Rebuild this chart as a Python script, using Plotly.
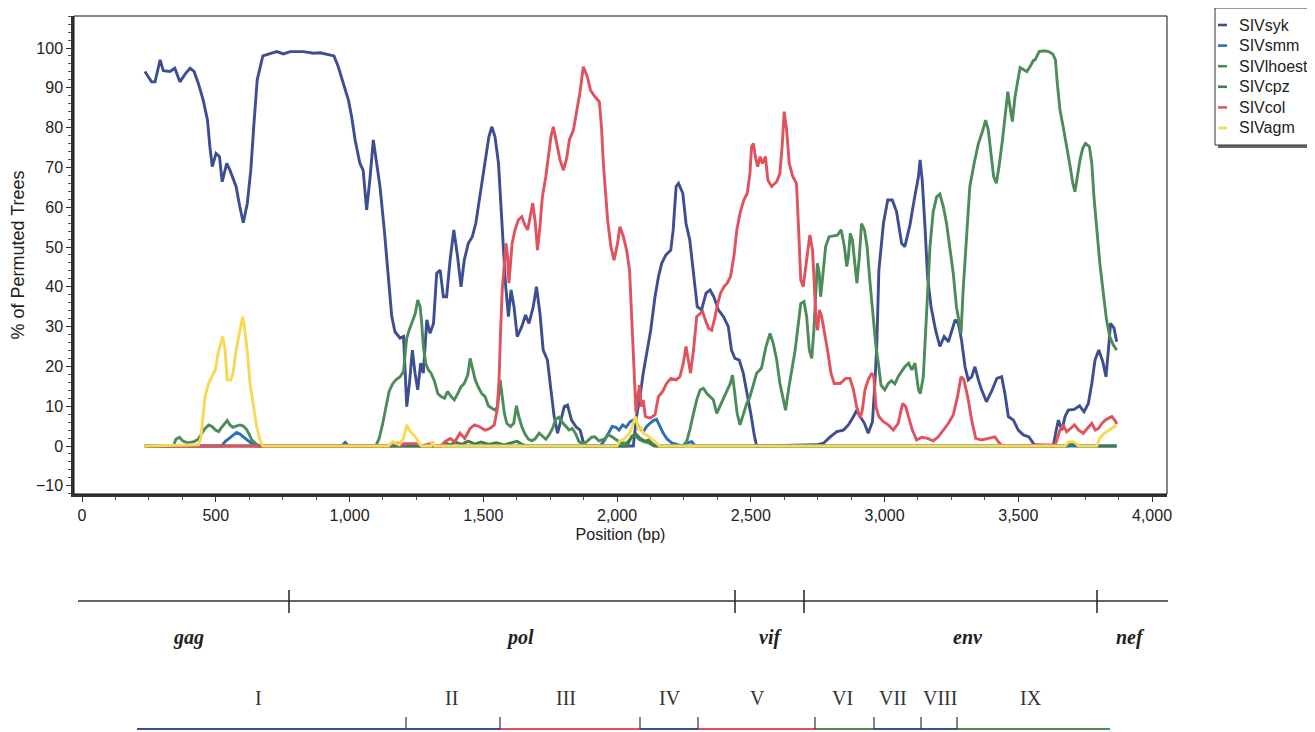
import plotly.graph_objects as go

# ---------------- data (position in bp, % of permuted trees) ----------------
series_names = ["SIVsyk", "SIVsmm", "SIVlhoest", "SIVcpz", "SIVcol", "SIVagm"]

syk_pts = [(235, 94.1), (260, 91.5), (273, 91.5), (292, 97.0), (304, 94.3), (329, 94.1), (347, 94.9),
           (366, 91.5), (386, 93.5), (404, 94.9), (419, 94.1), (435, 91.1), (453, 86.9), (469, 81.9),
           (478, 75.2), (487, 70.2), (501, 73.5), (514, 72.7), (524, 66.4), (541, 71.0), (553, 69.3),
           (576, 65.2), (590, 60.1), (603, 56.1), (618, 61.0), (631, 69.3), (643, 81.1), (655, 92.0),
           (676, 98.0), (703, 98.5), (728, 99.1), (753, 98.5), (778, 99.1), (828, 99.1), (865, 98.7),
           (890, 98.8), (915, 98.5), (942, 98.0), (958, 95.3), (977, 91.1), (996, 86.9), (1008, 82.7),
           (1021, 76.9), (1039, 71.0), (1051, 69.3), (1064, 59.3), (1076, 66.8), (1089, 76.9), (1101, 71.0),
           (1114, 65.2), (1130, 54.3), (1145, 41.7), (1158, 32.5), (1170, 28.7), (1189, 27.1), (1202, 27.5),
           (1214, 9.9), (1224, 15.7), (1235, 24.1), (1245, 18.3), (1255, 14.1), (1266, 20.8), (1276, 18.3),
           (1289, 31.7), (1301, 28.3), (1314, 30.8), (1326, 43.4), (1339, 44.2), (1351, 37.5), (1363, 37.5),
           (1376, 46.7), (1390, 54.3), (1404, 47.6), (1417, 40.0), (1429, 46.7), (1444, 50.9), (1459, 52.6),
           (1472, 55.9), (1484, 61.0), (1496, 66.8), (1509, 71.9), (1521, 77.7), (1532, 80.2), (1544, 77.7),
           (1557, 71.0), (1565, 62.6), (1575, 50.9), (1583, 40.9), (1594, 32.5), (1604, 39.2), (1615, 35.0),
           (1627, 27.5), (1644, 30.0), (1658, 32.9), (1671, 30.8), (1687, 35.0), (1699, 40.0), (1712, 33.3),
           (1724, 24.1), (1740, 21.6), (1753, 14.1), (1765, 7.4), (1778, 3.2), (1789, 6.1), (1803, 9.9),
           (1815, 10.3), (1830, 6.5), (1846, 4.9), (1862, 4.0), (1878, 0.0), (2061, 0.0), (2073, 7.4),
           (2086, 12.4), (2098, 18.3), (2111, 23.3), (2126, 29.1), (2142, 37.5), (2155, 42.5), (2167, 45.9),
           (2183, 48.0), (2201, 49.2), (2210, 54.3), (2221, 65.2), (2230, 66.0), (2246, 63.5), (2258, 55.9),
           (2272, 51.8), (2288, 42.5), (2300, 35.0), (2316, 34.2), (2333, 38.4), (2348, 39.2), (2362, 37.5),
           (2379, 34.2), (2398, 32.5), (2416, 30.0), (2428, 24.1), (2441, 22.0), (2457, 21.6), (2472, 18.3),
           (2487, 13.2), (2500, 8.2), (2513, 2.8), (2522, 0.0), (2746, 0.3), (2772, 0.7), (2797, 2.3),
           (2822, 3.6), (2846, 4.0), (2865, 5.3), (2884, 7.4), (2896, 9.0), (2909, 7.4), (2925, 5.7),
           (2939, 3.2), (2955, 6.1), (2964, 15.7), (2971, 25.0), (2979, 44.2), (2996, 55.9), (3012, 61.8),
           (3029, 61.8), (3045, 58.9), (3064, 50.9), (3076, 50.1), (3095, 55.5), (3113, 62.6), (3127, 67.7),
           (3133, 71.9), (3141, 66.8), (3152, 54.3), (3161, 42.5), (3174, 35.0), (3191, 29.1), (3207, 25.0),
           (3223, 27.5), (3239, 26.2), (3251, 28.7), (3264, 31.7), (3276, 30.8), (3288, 26.6), (3301, 19.9),
           (3313, 16.6), (3326, 17.4), (3338, 19.9), (3351, 16.6), (3363, 14.1), (3381, 11.1), (3400, 13.7),
           (3420, 17.0), (3438, 17.4), (3450, 13.2), (3463, 7.4), (3482, 6.5), (3500, 4.0), (3519, 2.8),
           (3540, 2.3), (3560, 0.3), (3631, 0.0), (3642, 4.0), (3650, 6.5), (3663, 4.0), (3675, 7.4),
           (3687, 9.0), (3709, 9.2), (3729, 10.1), (3746, 8.6), (3762, 10.7), (3775, 15.7), (3787, 21.6),
           (3801, 24.1), (3816, 21.2), (3828, 17.4), (3837, 24.1), (3845, 30.8), (3858, 29.6), (3868, 26.2)]

smm_pts = [(235, 0), (522, 0), (535, 1.1), (551, 1.9), (565, 2.8), (578, 3.4), (590, 3.0), (603, 2.3),
           (615, 1.5), (631, 0.8), (651, 0), (970, 0), (984, 0.9), (996, 0), (1937, 0), (1952, 1.3),
           (1968, 3.2), (1982, 4.9), (1996, 4.7), (2008, 4.0), (2021, 5.3), (2034, 4.7), (2049, 6.1),
           (2061, 6.5), (2073, 5.7), (2086, 4.4), (2098, 3.6), (2111, 4.9), (2123, 5.7), (2136, 6.4),
           (2148, 6.7), (2160, 5.0), (2173, 3.2), (2188, 1.7), (2204, 0.8), (2223, 0.4), (2242, 0),
           (2263, 0.8), (2279, 1.1), (2292, 0), (3868, 0)]

lhoest_pts = [(235, 0), (342, 0), (351, 1.7), (364, 2.2), (376, 1.3), (394, 0.8), (419, 1.1), (435, 1.7),
              (448, 3.2), (460, 4.4), (474, 5.3), (486, 4.9), (499, 4.0), (511, 3.6), (522, 4.7), (533, 5.7),
              (543, 6.4), (553, 5.3), (564, 4.7), (576, 5.0), (590, 5.3), (603, 5.0), (615, 4.2), (626, 2.8),
              (635, 1.5), (651, 0.5), (663, 0), (1098, 0), (1111, 1.9), (1123, 5.3), (1136, 9.9), (1148, 13.7),
              (1161, 15.6), (1173, 16.6), (1189, 17.4), (1202, 18.7), (1207, 22.4), (1214, 27.1), (1223, 29.1),
              (1235, 31.2), (1246, 33.3), (1255, 36.7), (1264, 35.0), (1270, 30.8), (1276, 25.0), (1285, 20.8),
              (1295, 19.1), (1305, 18.3), (1318, 16.2), (1330, 13.2), (1342, 12.4), (1355, 12.0), (1367, 13.7),
              (1380, 12.4), (1392, 11.6), (1405, 13.2), (1417, 14.9), (1429, 15.7), (1442, 17.8), (1451, 22.0),
              (1459, 19.9), (1470, 16.6), (1482, 14.7), (1494, 13.2), (1507, 12.4), (1519, 10.1), (1532, 9.5),
              (1544, 9.0), (1554, 9.9), (1563, 16.6), (1571, 12.4), (1579, 8.2), (1588, 5.7), (1602, 4.9),
              (1614, 5.7), (1624, 10.1), (1633, 7.4), (1644, 4.9), (1656, 3.0), (1669, 1.7), (1681, 1.3),
              (1694, 1.8), (1709, 3.2), (1721, 2.5), (1734, 1.7), (1746, 2.8), (1759, 4.4), (1771, 6.7),
              (1783, 7.2), (1796, 5.9), (1808, 4.9), (1821, 4.0), (1833, 4.4), (1846, 3.0), (1858, 1.1),
              (1874, 0.5), (1887, 1.1), (1905, 2.2), (1917, 2.3), (1933, 1.3), (1952, 1.7), (1968, 2.8),
              (1981, 2.3), (1996, 1.7), (2014, 0.8), (2036, 0.7), (2055, 2.2), (2068, 2.8), (2082, 1.7),
              (2101, 1.1), (2117, 0.8), (2138, 0), (2248, 0), (2261, 1.3), (2272, 4.0), (2286, 8.2),
              (2298, 11.6), (2311, 14.1), (2323, 14.5), (2336, 13.2), (2348, 12.4), (2360, 11.6), (2373, 8.2),
              (2385, 9.9), (2398, 11.6), (2410, 13.7), (2423, 15.6), (2432, 17.8), (2441, 12.8), (2449, 8.2),
              (2460, 5.3), (2472, 8.2), (2485, 10.7), (2497, 12.4), (2510, 15.7), (2522, 18.3), (2540, 19.5),
              (2557, 25.0), (2572, 28.3), (2584, 25.8), (2597, 21.6), (2609, 15.7), (2622, 11.6), (2630, 9.0),
              (2641, 14.1), (2653, 19.1), (2666, 24.1), (2678, 30.8), (2687, 35.8), (2699, 36.3), (2709, 32.5),
              (2719, 24.1), (2728, 22.0), (2736, 29.1), (2743, 39.2), (2749, 45.9), (2756, 43.4), (2761, 37.5),
              (2769, 42.5), (2780, 50.1), (2793, 52.6), (2809, 52.8), (2824, 53.0), (2838, 54.3), (2850, 50.1),
              (2859, 45.1), (2865, 47.6), (2872, 53.4), (2880, 51.8), (2889, 45.9), (2897, 40.9), (2906, 47.6),
              (2914, 55.9), (2925, 54.3), (2935, 50.1), (2946, 40.9), (2958, 31.7), (2968, 25.0), (2977, 20.8),
              (2987, 15.3), (3001, 14.1), (3014, 15.7), (3026, 16.4), (3039, 15.6), (3051, 17.4), (3064, 18.7),
              (3076, 19.9), (3090, 20.8), (3102, 19.1), (3114, 20.8), (3127, 14.1), (3134, 13.2), (3145, 17.4),
              (3154, 29.1), (3161, 38.4), (3170, 50.1), (3182, 58.9), (3195, 62.6), (3207, 63.3), (3220, 60.1),
              (3232, 55.9), (3244, 50.1), (3257, 43.4), (3269, 35.0), (3278, 30.8), (3286, 28.3), (3294, 39.2),
              (3307, 52.6), (3319, 65.2), (3335, 71.0), (3351, 76.0), (3366, 79.0), (3378, 81.9), (3388, 79.4),
              (3398, 72.7), (3408, 67.7), (3418, 66.0), (3428, 70.2), (3441, 76.9), (3450, 82.7), (3461, 89.0),
              (3469, 85.3), (3478, 81.5), (3488, 87.8), (3498, 92.0), (3507, 95.1), (3519, 94.6), (3532, 94.1),
              (3544, 95.3), (3556, 96.8), (3563, 97.0), (3578, 99.1), (3597, 99.3), (3613, 99.1), (3629, 98.5),
              (3639, 97.0), (3646, 91.1), (3656, 84.4), (3668, 80.2), (3681, 75.6), (3693, 70.6), (3704, 66.0),
              (3712, 63.9), (3721, 67.7), (3731, 71.9), (3741, 74.8), (3751, 76.0), (3766, 75.2), (3775, 71.0),
              (3783, 62.6), (3793, 54.3), (3805, 45.9), (3818, 38.4), (3830, 31.7), (3842, 27.5), (3855, 25.4),
              (3868, 24.1)]

cpz_pts = [(235, 0), (1339, 0), (1357, 0.8), (1377, 0.3), (1396, 1.0), (1420, 0.4), (1444, 1.2), (1468, 0.5),
           (1492, 1.0), (1520, 0.4), (1549, 0.8), (1578, 0.3), (1626, 1.2), (1645, 0.4), (1664, 0),
           (2037, 0), (2056, 2.5), (2071, 3.0), (2085, 2.0), (2104, 1.2), (2118, 1.5), (2133, 0.5),
           (2147, 0), (3683, 0), (3692, 0.6), (3711, 0.6), (3721, 0), (3868, 0)]

col_pts = [(235, 0), (1147, 0), (1157, 0.7), (1183, 0.7), (1190, 0), (1202, 0.6), (1257, 0.6), (1267, 0),
           (1307, 0.6), (1319, 0), (1343, 0), (1357, 1.1), (1376, 1.9), (1394, 1.1), (1413, 3.2), (1431, 1.9),
           (1451, 4.4), (1467, 5.3), (1484, 4.9), (1507, 4.0), (1525, 4.4), (1541, 5.3), (1552, 9.0),
           (1559, 16.6), (1565, 29.1), (1571, 39.2), (1579, 45.9), (1585, 50.9), (1591, 47.6), (1596, 40.9),
           (1602, 45.9), (1608, 50.9), (1619, 54.3), (1631, 56.8), (1644, 57.6), (1656, 55.5), (1666, 54.3),
           (1676, 57.6), (1685, 61.0), (1694, 56.4), (1703, 49.2), (1712, 55.1), (1721, 62.6), (1734, 67.7),
           (1743, 72.7), (1753, 77.7), (1762, 80.2), (1775, 76.0), (1787, 71.9), (1800, 69.3), (1812, 72.3),
           (1822, 76.9), (1837, 79.4), (1850, 84.4), (1862, 89.0), (1874, 95.3), (1889, 92.8), (1901, 89.4),
           (1917, 87.8), (1934, 86.5), (1942, 80.2), (1949, 71.0), (1957, 63.5), (1965, 56.8), (1977, 50.1),
           (1989, 46.7), (2002, 50.9), (2011, 55.1), (2024, 52.6), (2036, 49.2), (2047, 44.2), (2052, 37.5),
           (2059, 27.5), (2065, 16.6), (2071, 8.4), (2076, 11.6), (2084, 15.3), (2090, 9.9), (2098, 11.6),
           (2106, 7.4), (2123, 7.0), (2142, 7.8), (2155, 12.4), (2171, 13.7), (2185, 15.7), (2201, 17.0),
           (2221, 16.6), (2235, 17.4), (2248, 20.8), (2258, 25.0), (2267, 20.8), (2275, 18.3), (2286, 24.1),
           (2298, 32.5), (2311, 33.3), (2320, 33.8), (2330, 31.7), (2342, 29.6), (2354, 29.1), (2364, 31.7),
           (2375, 35.4), (2387, 38.4), (2400, 40.0), (2412, 40.9), (2424, 42.5), (2437, 47.6), (2448, 54.3),
           (2460, 58.5), (2474, 61.8), (2487, 63.5), (2497, 68.5), (2503, 75.2), (2510, 76.0), (2517, 72.7),
           (2526, 70.2), (2535, 72.7), (2544, 71.0), (2555, 72.7), (2564, 66.8), (2578, 65.2), (2597, 66.4),
           (2609, 68.5), (2618, 76.0), (2625, 84.0), (2634, 79.4), (2644, 71.0), (2657, 67.7), (2671, 66.0),
           (2679, 54.3), (2687, 41.7), (2696, 40.0), (2709, 47.6), (2721, 53.0), (2731, 49.2), (2737, 40.9),
           (2744, 31.7), (2750, 29.1), (2757, 34.2), (2765, 32.5), (2775, 29.1), (2787, 24.1), (2800, 18.3),
           (2812, 15.7), (2834, 15.7), (2855, 17.0), (2871, 17.0), (2884, 14.1), (2896, 9.9), (2909, 7.0),
           (2917, 9.0), (2927, 14.1), (2939, 16.6), (2952, 18.3), (2960, 17.4), (2968, 9.9), (2979, 7.4),
           (2996, 6.1), (3014, 5.3), (3033, 4.0), (3051, 5.7), (3068, 10.7), (3079, 9.9), (3091, 7.0),
           (3104, 4.0), (3120, 1.5), (3139, 2.2), (3161, 1.9), (3182, 1.3), (3201, 2.3), (3220, 4.0),
           (3239, 5.7), (3257, 7.8), (3273, 12.4), (3286, 17.4), (3296, 16.8), (3311, 12.4), (3326, 6.5),
           (3341, 1.9), (3363, 1.5), (3388, 1.9), (3413, 2.3), (3425, 1.1), (3436, 0.3), (3444, 0),
           (3638, 0.3), (3646, 1.9), (3656, 4.0), (3668, 5.3), (3681, 3.6), (3696, 4.4), (3710, 5.3),
           (3726, 4.0), (3743, 3.2), (3758, 4.4), (3775, 5.7), (3788, 4.0), (3800, 4.4), (3813, 5.7),
           (3825, 6.5), (3838, 7.0), (3850, 7.4), (3862, 6.4), (3868, 5.5)]

agm_pts = [(235, 0), (435, 0.3), (444, 1.9), (452, 8.2), (460, 12.4), (473, 15.7), (485, 17.4), (498, 19.1),
           (510, 23.7), (519, 26.2), (526, 27.5), (535, 24.1), (543, 16.6), (556, 16.6), (565, 18.3),
           (576, 24.1), (585, 27.5), (593, 30.4), (601, 32.5), (609, 29.1), (618, 23.7), (628, 15.7),
           (640, 9.9), (653, 4.9), (665, 1.5), (676, 0), (1145, 0), (1161, 1.1), (1173, 0.7), (1185, 0.3),
           (1202, 1.9), (1214, 5.3), (1223, 4.0), (1235, 3.2), (1248, 2.2), (1260, 0.7), (1270, 0),
           (1305, 0), (1311, 1.1), (1319, 0), (1999, 0), (2011, 1.3), (2030, 1.9), (2047, 3.2), (2061, 5.7),
           (2070, 7.4), (2080, 4.0), (2089, 4.9), (2098, 3.2), (2111, 2.8), (2126, 1.9), (2142, 1.1),
           (2159, 0), (3675, 0), (3687, 1.0), (3704, 1.1), (3716, 0.7), (3725, 0), (3793, 0), (3805, 1.9),
           (3818, 3.0), (3833, 3.6), (3849, 4.4), (3868, 5.3)]

series_pts = [syk_pts, smm_pts, lhoest_pts, cpz_pts, col_pts, agm_pts]
series_colors = ["#3D4F91", "#2E6DB8", "#4B8C59", "#3F7D4D", "#E0525E", "#F6D955"]

x_ticks = [0, 500, 1000, 1500, 2000, 2500, 3000, 3500, 4000]
y_ticks = [-10, 0, 10, 20, 30, 40, 50, 60, 70, 80, 90, 100]

gene_names = ["gag", "pol", "vif", "env", "nef"]
region_names = ["I", "II", "III", "IV", "V", "VI", "VII", "VIII", "IX"]

# ---------------- layout geometry (page pixels) ----------------
OFF = 8                      # default page margin of the html body
W, H = 1315 - OFF, 732 - OFF
PL, PR, PT, PB = 74, 1167, 16, 494   # plot area in page pixels
L, R, T, B = PL - OFF, PR - OFF, PT - OFF, PB - OFF
X0_PX, PX_PER_BP = 82.0, 0.2675      # where 0 bp sits, and the scale
Y0_PX, PX_PER_PCT = 446.0, 3.98


def px(xp):
    return (xp - PL) / (PR - PL)


def py(yp):
    return (PB - yp) / (PB - PT)


FONT = "Arial, Liberation Sans, sans-serif"
SERIF = "Liberation Serif, DejaVu Serif, Times New Roman, serif"

fig = go.Figure()
for name, pts, col in zip(series_names, series_pts, series_colors):
    fig.add_trace(go.Scatter(
        x=[p[0] for p in pts], y=[p[1] for p in pts], name=name, mode="lines",
        line=dict(color=col, width=2.9), showlegend=False))

shapes = []
annotations = []

# plot frame (thin top/right)
shapes.append(dict(type="rect", xref="paper", yref="paper", x0=0, x1=1, y0=0, y1=1,
                   line=dict(color="#111", width=1), layer="above"))

# legend (drawn box with shadow)
lg_x0, lg_x1, lg_y0, lg_y1 = 1215, 1310, 8, 145
shapes.append(dict(type="rect", xref="paper", yref="paper", x0=px(lg_x0 + 3), x1=px(lg_x1 + 3),
                   y0=py(lg_y1 + 3), y1=py(lg_y0 + 3), fillcolor="#666", line=dict(width=0)))
shapes.append(dict(type="rect", xref="paper", yref="paper", x0=px(lg_x0), x1=px(lg_x1),
                   y0=py(lg_y1), y1=py(lg_y0), fillcolor="white", line=dict(color="#333", width=1)))
for i, (name, col) in enumerate(zip(series_names, series_colors)):
    yy = 25 + i * 20.6
    shapes.append(dict(type="line", xref="paper", yref="paper", x0=px(1218), x1=px(1227),
                       y0=py(yy), y1=py(yy), line=dict(color=col, width=2.6)))
    annotations.append(dict(text=name, xref="paper", yref="paper", x=px(1237), y=py(yy),
                            xanchor="left", yanchor="middle", showarrow=False,
                            font=dict(family=FONT, size=16, color="#222")))

# gene map
gene_line_y = 601
shapes.append(dict(type="line", xref="paper", yref="paper", x0=px(78), x1=px(1168),
                   y0=py(gene_line_y), y1=py(gene_line_y), line=dict(color="#333", width=1.5)))
for tx in [289, 735, 804, 1097]:
    shapes.append(dict(type="line", xref="paper", yref="paper", x0=px(tx), x1=px(tx),
                       y0=py(590), y1=py(613), line=dict(color="#222", width=1.5)))
for g, gx in zip(gene_names, [188, 520, 770, 968, 1130]):
    annotations.append(dict(text="<b><i>%s</i></b>" % g, xref="paper", yref="paper", x=px(gx), y=py(637),
                            xanchor="center", yanchor="middle", showarrow=False,
                            font=dict(family=SERIF, size=20, color="#222")))

# recombination regions
reg_bounds = [137, 406, 500, 640, 698, 815, 874, 921, 957, 1110]
reg_colors = ["#3D4F91", "#3D4F91", "#E0525E", "#3D4F91", "#E0525E", "#4B8C59", "#3D4F91", "#3D4F91", "#4B8C59"]
reg_label_x = [258, 451, 566, 670, 757, 842, 893, 940, 1031]
reg_y = 729
for i in range(len(region_names)):
    shapes.append(dict(type="line", xref="paper", yref="paper", x0=px(reg_bounds[i]), x1=px(reg_bounds[i + 1]),
                       y0=py(reg_y), y1=py(reg_y), line=dict(color=reg_colors[i], width=2)))
    annotations.append(dict(text=region_names[i], xref="paper", yref="paper", x=px(reg_label_x[i]), y=py(698),
                            xanchor="center", yanchor="middle", showarrow=False,
                            font=dict(family=SERIF, size=20, color="#333")))
for tx in reg_bounds[1:-1]:
    shapes.append(dict(type="line", xref="paper", yref="paper", x0=px(tx), x1=px(tx),
                       y0=py(717), y1=py(reg_y), line=dict(color="#333", width=1.2)))

x_range = [(PL - X0_PX) / PX_PER_BP, (PR - X0_PX) / PX_PER_BP]
y_range = [(Y0_PX - PB) / PX_PER_PCT, (Y0_PX - PT) / PX_PER_PCT]

fig.update_layout(
    width=W, height=H,
    margin=dict(l=L, r=W - R, t=T, b=H - B, autoexpand=False),
    paper_bgcolor="white", plot_bgcolor="white",
    font=dict(family=FONT, size=16, color="#222"),
    showlegend=False,
    shapes=shapes, annotations=annotations,
    xaxis=dict(range=x_range, tickvals=x_ticks, tickformat=",d", ticks="outside", ticklen=5,
               tickcolor="#333", tickwidth=1, showgrid=False, zeroline=False,
               showline=True, linecolor="#333", linewidth=2.5,
               minor=dict(dtick=125, tick0=0, ticks="outside", ticklen=3, tickcolor="#555", showgrid=False),
               tickfont=dict(family=FONT, size=16, color="#222"),
               title=dict(text="Position (bp)", standoff=6, font=dict(family=FONT, size=16, color="#222"))),
    yaxis=dict(range=y_range, tickvals=y_ticks, ticks="outside", ticklen=5,
               tickcolor="#333", tickwidth=1, showgrid=False, zeroline=False,
               showline=True, linecolor="#333", linewidth=2.5,
               minor=dict(dtick=2, tick0=0, ticks="outside", ticklen=3, tickcolor="#555", showgrid=False),
               tickfont=dict(family=FONT, size=16, color="#222"),
               title=dict(text="% of Permuted Trees", standoff=8, font=dict(family=FONT, size=18, color="#222"))),
)

fig.write_html("out.html")
